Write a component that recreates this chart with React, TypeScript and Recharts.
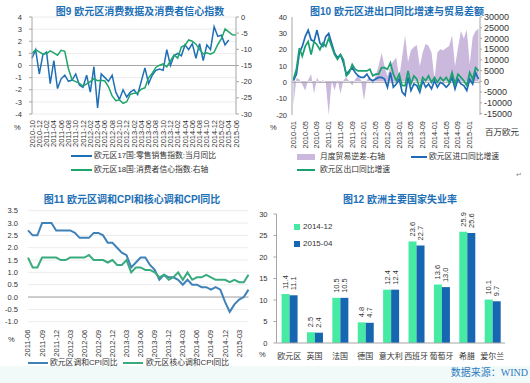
import React from 'react';
import {
  ComposedChart,
  LineChart,
  BarChart,
  Line,
  Area,
  Bar,
  XAxis,
  YAxis,
  CartesianGrid,
  ReferenceLine,
  LabelList,
} from 'recharts';

const FONT = "'Liberation Sans', 'Noto Sans CJK SC', sans-serif";
const TITLE_COLOR = '#1d6fb6';

// ---------- Chart 9 ----------
const c9Months = [
  '2010-10', '2010-11', '2010-12',
  '2011-01', '2011-02', '2011-03', '2011-04', '2011-05', '2011-06', '2011-07', '2011-08', '2011-09', '2011-10', '2011-11', '2011-12',
  '2012-01', '2012-02', '2012-03', '2012-04', '2012-05', '2012-06', '2012-07', '2012-08', '2012-09', '2012-10', '2012-11', '2012-12',
  '2013-01', '2013-02', '2013-03', '2013-04', '2013-05', '2013-06', '2013-07', '2013-08', '2013-09', '2013-10', '2013-11', '2013-12',
  '2014-01', '2014-02', '2014-03', '2014-04', '2014-05', '2014-06', '2014-07', '2014-08', '2014-09', '2014-10', '2014-11', '2014-12',
  '2015-01', '2015-02', '2015-03', '2015-04', '2015-05', '2015-06',
];
const c9Retail = [
  0.6, 1.3, -0.7, 0.9, 1.1, -1.5, 0.4, -1.9, -1.1, -0.8,
  -1.3, -1.2, -0.7, -1.6, -1.8, -0.8, -2.2, -0.1, -3.5, -0.7,
  -1.0, -1.3, -0.8, -2.2, -2.8, -2.0, -2.6, -2.2, -2.0, -2.4,
  -1.3, -0.2, -1.5, -0.8, -0.4, -0.3, -0.4, 1.3, 0.0, 0.8,
  1.0, 0.8, 1.7, 1.3, 1.8, 0.6, 1.8, 0.4, 1.7, 1.3,
  3.2, 2.4, 2.5, 1.7, 2.1,
];
const c9Confidence = [
  -11.3, -10.1, -10.8, -11.5, -11.3, -10.5, -11.1, -11.8, -10.3, -10.6,
  -16.0, -19.5, -20.0, -20.5, -21.4, -20.7, -20.0, -19.1, -19.7, -19.6,
  -19.8, -21.6, -24.4, -25.9, -25.6, -26.7, -26.2, -23.9, -23.6, -23.5,
  -22.3, -21.9, -18.8, -17.4, -15.6, -14.9, -14.5, -15.4, -13.6, -11.7,
  -12.7, -9.3, -8.7, -7.1, -7.5, -8.4, -10.0, -11.4, -11.1, -11.5,
  -10.9, -8.5, -6.7, -3.7, -4.6, -5.5, -5.6,
];
const c9LeftTicks = [-4, -3, -2, -1, 0, 1, 2, 3, 4];
const c9RightTicks = [-30, -25, -20, -15, -10, -5, 0];

// ---------- Chart 10 ----------
const c10Months = [
  '2010-01', '2010-02', '2010-03', '2010-04', '2010-05', '2010-06', '2010-07', '2010-08', '2010-09', '2010-10', '2010-11', '2010-12',
  '2011-01', '2011-02', '2011-03', '2011-04', '2011-05', '2011-06', '2011-07', '2011-08', '2011-09', '2011-10', '2011-11', '2011-12',
  '2012-01', '2012-02', '2012-03', '2012-04', '2012-05', '2012-06', '2012-07', '2012-08', '2012-09', '2012-10', '2012-11', '2012-12',
  '2013-01', '2013-02', '2013-03', '2013-04', '2013-05', '2013-06', '2013-07', '2013-08', '2013-09', '2013-10', '2013-11', '2013-12',
  '2014-01', '2014-02', '2014-03', '2014-04', '2014-05', '2014-06', '2014-07', '2014-08', '2014-09', '2014-10', '2014-11', '2014-12',
  '2015-01', '2015-02', '2015-03', '2015-04',
];
const c10Balance = [
  -11000, 1500, 1000, -1500, -4300, 500, 3400, -5800, 1800, -1000, 600, -500,
  -15700, 300, -4300, 1000, -5800, 500, 1800, 200, -2000, 1000, 2600, 500,
  -8900, 500, 2500, -1500, 3000, 7200, 13300, 7000, 2400, 7200, 9500, 11000,
  1500, 11500, 21500, 9000, 14500, 16000, 17000, 7000, 13500, 17500, 16500, 13500,
  1000, 13500, 15000, 14500, 15500, 16500, 21500, 7000, 15500, 23500, 20000, 24000,
  8000, 20500, 23500, 24500,
];
const c10Imports = [
  1, 5, 18, 22, 28, 32, 26, 25, 32, 24, 22, 28,
  30, 24, 18, 15, 17, 12, 5, 7, 9, 6, 4, 3,
  3, 5, 2, 1, 2, 3, 3, 2, -3, 6, -3, -1,
  2, -6, -8, 3, -5, -1, -2, -6, 1, -3, -1, -4,
  1, -3, 0, -1, -3, -1, 3, -4, 2, -1, -2, -5,
  2, -1, 6, 2,
];
const c10Exports = [
  2, 8, 21, 16, 22, 25, 17, 25, 23, 20, 24, 22,
  27, 22, 17, 14, 17, 14, 4, 6, 11, 8, 7, 7,
  7, 7, 8, 4, 5, 5, 9, 9, 8, 12, 5, 1,
  5, -2, -2, 7, -1, 4, 2, -4, 3, 1, 4, 0,
  3, 0, 3, 1, 3, 0, 6, -1, 5, 3, 1, -2,
  6, 2, 9, 7,
];
const c10LeftTicks = [-20, -10, 0, 10, 20, 30, 40];
const c10RightTicks = [-15000, -10000, -5000, 0, 5000, 10000, 15000, 20000, 25000, 30000];

// ---------- Chart 11 ----------
const c11Months = [
  '2011-06', '2011-07', '2011-08', '2011-09', '2011-10', '2011-11', '2011-12',
  '2012-01', '2012-02', '2012-03', '2012-04', '2012-05', '2012-06', '2012-07', '2012-08', '2012-09', '2012-10', '2012-11', '2012-12',
  '2013-01', '2013-02', '2013-03', '2013-04', '2013-05', '2013-06', '2013-07', '2013-08', '2013-09', '2013-10', '2013-11', '2013-12',
  '2014-01', '2014-02', '2014-03', '2014-04', '2014-05', '2014-06', '2014-07', '2014-08', '2014-09', '2014-10', '2014-11', '2014-12',
  '2015-01', '2015-02', '2015-03', '2015-04', '2015-05',
];
const c11Hicp = [
  2.7, 2.5, 2.5, 3.0, 3.0, 3.0, 2.7, 2.7, 2.7, 2.7, 2.6, 2.4,
  2.4, 2.4, 2.6, 2.6, 2.5, 2.2, 2.2, 2.0, 1.8, 1.7, 1.2, 1.4,
  1.6, 1.6, 1.3, 1.1, 0.7, 0.9, 0.8, 0.8, 0.7, 0.5, 0.7, 0.5,
  0.5, 0.4, 0.4, 0.3, 0.4, 0.3, -0.2, -0.6, -0.3, -0.1, 0.0, 0.3,
];
const c11Core = [
  1.6, 1.2, 1.2, 1.6, 1.6, 1.6, 1.6, 1.5, 1.5, 1.6, 1.6, 1.6,
  1.6, 1.7, 1.5, 1.5, 1.5, 1.4, 1.5, 1.3, 1.3, 1.5, 1.0, 1.2,
  1.2, 1.1, 1.1, 1.0, 0.8, 0.9, 0.7, 0.8, 1.0, 0.7, 1.0, 0.7,
  0.8, 0.8, 0.9, 0.8, 0.7, 0.7, 0.7, 0.6, 0.7, 0.6, 0.6, 0.9,
];
const c11Ticks = [-1, -0.5, 0, 0.5, 1, 1.5, 2, 2.5, 3, 3.5];

// ---------- Chart 12 ----------
const c12Countries = ['欧元区', '英国', '法国', '德国', '意大利', '西班牙', '葡萄牙', '希腊', '爱尔兰'];
const c12Dec2014 = [11.4, 2.5, 10.5, 4.8, 12.4, 23.6, 13.6, 25.9, 10.1];
const c12Apr2015 = [11.1, 2.4, 10.5, 4.7, 12.4, 22.7, 13.0, 25.6, 9.7];
const c12Ticks = [0, 5, 10, 15, 20, 25, 30];

const c9Data = c9Months.map((m, i) => ({ m, retail: i < c9Retail.length ? c9Retail[i] : null, conf: c9Confidence[i] }));
const c10Data = c10Months.map((m, i) => ({ m, bal: c10Balance[i], imp: c10Imports[i], exp: c10Exports[i] }));
const c11Data = c11Months.map((m, i) => ({ m, hicp: c11Hicp[i], core: c11Core[i] }));
const c12Data = c12Countries.map((c, i) => ({ c, a: c12Dec2014[i], b: c12Apr2015[i] }));

const RotTick = (props: any) => {
  const { x, y, payload } = props;
  return (
    <text
      x={x}
      y={y}
      transform={`rotate(-90 ${x} ${y})`}
      textAnchor="end"
      dominantBaseline="central"
      fontSize={7.5}
      fill="#333"
      fontFamily={FONT}
    >
      {payload.value}
    </text>
  );
};

const BarLabel = (props: any) => {
  const { x, y, width, value } = props;
  const cx = x + width / 2;
  const ty = y - 5;
  return (
    <text
      x={cx}
      y={ty}
      transform={`rotate(-90 ${cx} ${ty})`}
      textAnchor="start"
      dominantBaseline="central"
      fontSize={7.5}
      fill="#333"
      fontFamily={FONT}
    >
      {Number(value).toFixed(1)}
    </text>
  );
};

const Txt = ({ x, y, size = 8, color = '#333', anchor = 'start', weight = 400, family = FONT, children }: any) => (
  <div
    style={{
      position: 'absolute',
      left: x,
      top: y,
      transform: `translate(${anchor === 'middle' ? '-50%' : anchor === 'end' ? '-100%' : '0'}, -50%)`,
      fontSize: size,
      color,
      fontWeight: weight,
      fontFamily: family,
      whiteSpace: 'nowrap',
      lineHeight: 1,
    }}
  >
    {children}
  </div>
);

const Swatch = ({ x, y, w, h, color }: any) => (
  <div style={{ position: 'absolute', left: x, top: y - h / 2, width: w, height: h, background: color }} />
);

const tickStyle = { fontSize: 7.5, fill: '#333', fontFamily: FONT };
const axisGray = { stroke: '#a6a6a6' };

const C9_BLUE = '#1f6fb5';
const C9_GREEN = '#1ea56a';
const C10_BLUE = '#1f6bb8';
const C10_GREEN = '#1ba070';
const C10_PURPLE = '#cbb8dd';
const C11_BLUE = '#3f82b9';
const C11_GREEN = '#3aab7e';
const C12_GREEN = '#45eaa3';
const C12_BLUE = '#1766b1';

export default function App() {
  return (
    <div
      style={{
        position: 'absolute',
        left: 0,
        top: 0,
        width: 530,
        height: 383,
        background: '#ffffff',
        overflow: 'hidden',
        fontFamily: FONT,
      }}
    >
      <div style={{ position: 'absolute', left: 0, top: 366, width: 530, height: 17, background: '#f1f9f9' }} />

      {/* Chart 9 */}
      <Txt x={140} y={12} size={10} weight={700} color={TITLE_COLOR} anchor="middle">图9 欧元区消费数据及消费者信心指数</Txt>
      <div style={{ position: 'absolute', left: 0, top: 0 }}>
        <ComposedChart width={265} height={190} data={c9Data} margin={{ top: 17, right: 0, bottom: 36, left: 0 }}>
          <CartesianGrid yAxisId="l" vertical={false} stroke="#ececec" />
          <XAxis dataKey="m" interval={1} tick={<RotTick />} tickSize={3} tickMargin={3} axisLine={false} tickLine={false} height={40} />
          <YAxis yAxisId="l" domain={[-4, 4]} ticks={c9LeftTicks} interval={0} width={32} tick={tickStyle} axisLine={axisGray} tickLine={axisGray} tickSize={3} tickMargin={7} />
          <YAxis yAxisId="r" orientation="right" domain={[-30, 0]} ticks={c9RightTicks} interval={0} width={29} tick={tickStyle} axisLine={axisGray} tickLine={axisGray} tickSize={3} tickMargin={2} />
          <ReferenceLine yAxisId="l" y={0} stroke="#a6a6a6" />
          <Line yAxisId="l" type="linear" dataKey="retail" stroke={C9_BLUE} strokeWidth={1.5} dot={false} isAnimationActive={false} connectNulls={false} />
          <Line yAxisId="r" type="linear" dataKey="conf" stroke={C9_GREEN} strokeWidth={1.5} dot={false} isAnimationActive={false} />
        </ComposedChart>
      </div>
      <Txt x={14} y={128} size={7.5}>%</Txt>
      <Swatch x={71} y={156} w={21} h={1.6} color={C9_BLUE} />
      <Txt x={94} y={156} size={7.8}>欧元区17国:零售销售指数:当月同比</Txt>
      <Swatch x={71} y={170} w={21} h={1.6} color={C9_GREEN} />
      <Txt x={94} y={170} size={7.8}>欧元区18国:消费者信心指数:右轴</Txt>

      {/* Chart 10 */}
      <Txt x={397} y={12} size={10} weight={700} color={TITLE_COLOR} anchor="middle">图10 欧元区进出口同比增速与贸易差额</Txt>
      <div style={{ position: 'absolute', left: 265, top: 0 }}>
        <ComposedChart width={265} height={190} data={c10Data} margin={{ top: 17, right: 0, bottom: 35, left: 0 }}>
          <XAxis dataKey="m" scale="band" interval={3} tick={<RotTick />} tickSize={3} tickMargin={3} axisLine={false} tickLine={false} height={40} />
          <YAxis yAxisId="l" domain={[-20, 40]} ticks={c10LeftTicks} interval={0} width={27} tick={tickStyle} axisLine={axisGray} tickLine={false} tickSize={2} tickMargin={3} />
          <YAxis yAxisId="r" orientation="right" domain={[-15000, 30000]} ticks={c10RightTicks} interval={0} width={50} tick={{ ...tickStyle, fontSize: 9 }} axisLine={axisGray} tickLine={axisGray} tickSize={2} tickMargin={2} />
          <Area yAxisId="r" type="linear" dataKey="bal" fill={C10_PURPLE} fillOpacity={1} stroke="none" baseValue={0} isAnimationActive={false} />
          <ReferenceLine yAxisId="l" y={0} stroke="#a6a6a6" />
          <Line yAxisId="l" type="linear" dataKey="imp" stroke={C10_BLUE} strokeWidth={1.7} dot={false} isAnimationActive={false} />
          <Line yAxisId="l" type="linear" dataKey="exp" stroke={C10_GREEN} strokeWidth={1.7} dot={false} isAnimationActive={false} />
        </ComposedChart>
      </div>
      <Txt x={270} y={128} size={7.5}>%</Txt>
      <Txt x={485} y={132} size={8.5}>百万欧元</Txt>
      <Swatch x={297} y={157} w={18} h={6} color={C10_PURPLE} />
      <Txt x={320} y={157} size={7.8}>月度贸易逆差-右轴</Txt>
      <Swatch x={411} y={157} w={16} h={1.6} color={C10_BLUE} />
      <Txt x={429} y={157} size={7.8}>欧元区进口同比增速</Txt>
      <Swatch x={297} y={170} w={18} h={1.6} color={C10_GREEN} />
      <Txt x={320} y={170} size={7.8}>欧元区出口同比增速</Txt>
      <Txt x={516} y={174} size={7} color="#888">↵</Txt>

      {/* Chart 11 */}
      <Txt x={132} y={200} size={10} weight={700} color={TITLE_COLOR} anchor="middle">图11 欧元区调和CPI和核心调和CPI同比</Txt>
      <div style={{ position: 'absolute', left: 0, top: 190 }}>
        <LineChart width={265} height={193} data={c11Data} margin={{ top: 20.7, right: 16.5, bottom: 21.3, left: 0 }}>
          <CartesianGrid vertical={false} stroke="#ececec" />
          <XAxis dataKey="m" interval={2} tick={<RotTick />} tickSize={3} tickMargin={5} axisLine={false} tickLine={false} height={40} />
          <YAxis domain={[-1, 3.5]} ticks={c11Ticks} interval={0} width={28} tick={tickStyle} tickFormatter={(v: number) => v.toFixed(1)} axisLine={false} tickLine={false} tickSize={3} tickMargin={7} />
          <ReferenceLine y={0} stroke="#a6a6a6" />
          <Line type="linear" dataKey="hicp" stroke={C11_BLUE} strokeWidth={2} dot={false} isAnimationActive={false} />
          <Line type="linear" dataKey="core" stroke={C11_GREEN} strokeWidth={2} dot={false} isAnimationActive={false} />
        </LineChart>
      </div>
      <Txt x={8} y={340} size={7.5}>%</Txt>
      <Swatch x={28} y={363} w={20} h={1.8} color={C11_BLUE} />
      <Txt x={50} y={363} size={7.8}>欧元区调和CPI同比</Txt>
      <Swatch x={123} y={363} w={20} h={1.8} color={C11_GREEN} />
      <Txt x={146} y={363} size={7.8}>欧元区核心调和CPI同比</Txt>

      {/* Chart 12 */}
      <Txt x={400} y={200} size={10} weight={700} color={TITLE_COLOR} anchor="middle">图12 欧洲主要国家失业率</Txt>
      <div style={{ position: 'absolute', left: 250, top: 190 }}>
        <BarChart width={280} height={193} data={c12Data} margin={{ top: 24, right: 25, bottom: 20, left: 0 }} barCategoryGap="20%" barGap={0}>
          <XAxis dataKey="c" interval={0} tick={{ fontSize: 8, fill: '#333', fontFamily: FONT }} axisLine={axisGray} tickLine={false} tickSize={4} tickMargin={6} height={20} />
          <YAxis domain={[0, 30]} ticks={c12Ticks} interval={0} width={26.5} tick={tickStyle} axisLine={axisGray} tickLine={axisGray} tickSize={3} tickMargin={6} />
          <Bar dataKey="a" fill={C12_GREEN} isAnimationActive={false}>
            <LabelList dataKey="a" content={<BarLabel />} />
          </Bar>
          <Bar dataKey="b" fill={C12_BLUE} isAnimationActive={false}>
            <LabelList dataKey="b" content={<BarLabel />} />
          </Bar>
        </BarChart>
      </div>
      <Txt x={259} y={355} size={7.5}>%</Txt>
      <Swatch x={294} y={227} w={6} h={6} color={C12_GREEN} />
      <Txt x={303} y={227} size={8}>2014-12</Txt>
      <Swatch x={294} y={243.5} w={6} h={6} color={C12_BLUE} />
      <Txt x={303} y={243.5} size={8}>2015-04</Txt>

      <Txt x={528} y={373} size={10} color="#2e7cc0" anchor="end">
        数据来源：<span style={{ fontFamily: "'Liberation Serif', serif" }}>WIND</span>
      </Txt>
    </div>
  );
}
